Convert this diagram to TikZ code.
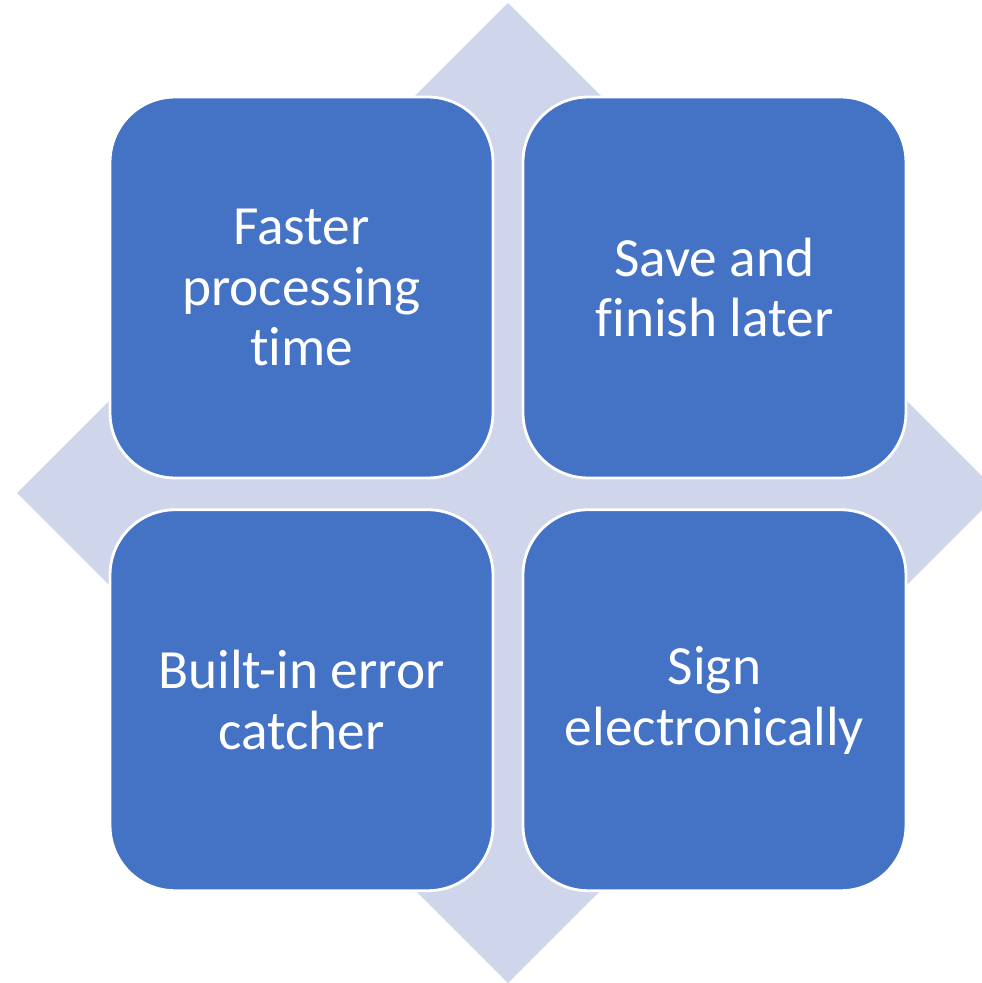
\documentclass[tikz,border=0pt]{standalone}
\usepackage{fontspec}
\setmainfont{Carlito}[Ligatures=NoCommon]
\usetikzlibrary{positioning}
\definecolor{tileblue}{HTML}{4472C4}
\definecolor{diamondgray}{HTML}{CFD5EA}
\begin{document}
\begin{tikzpicture}[x=0.02cm,y=-0.02cm]
    \tikzset{
      tile/.style={draw=white,line width=1.6pt,fill=tileblue,rounded corners=1.3cm,
        minimum width=7.66cm,minimum height=7.62cm,inner sep=0pt,
        text=white,align=center,font=\fontsize{31.5}{34.5}\selectfont},
    }
    % frame
    \clip (0,0) rectangle (982,983);
    % BACKGROUND DIAMOND
    \fill[diamondgray] (508,3) -- (999,493) -- (508,983) -- (17,493) -- cycle;

    % TILES
    \node[tile] (faster) at (301.5,287.5) {Faster\\processing\\time};
    \node[tile,right=0.545cm of faster] (save) {Save and\\finish later};
    \node[tile,below=0.58cm of faster] (builtin) {Built-in error\\catcher};
    \node[tile,below=0.58cm of save] (sign) {Sign\\electronically};
\end{tikzpicture}
\end{document}
